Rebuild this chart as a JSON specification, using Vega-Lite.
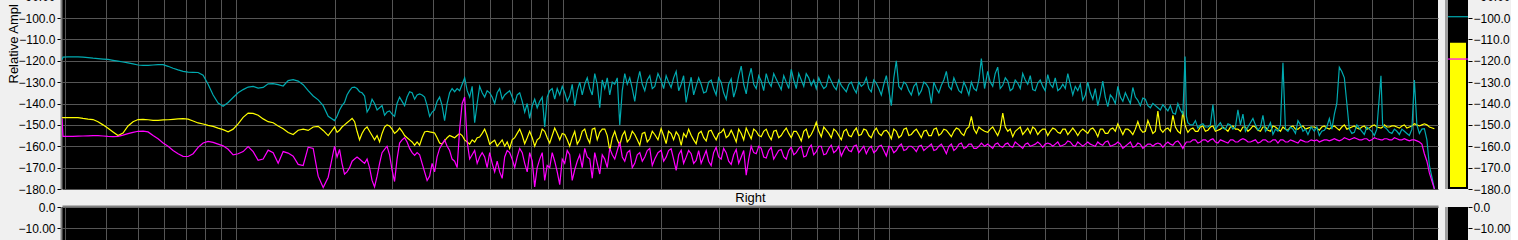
{
"$schema":"https://vega.github.io/schema/vega-lite/v6.json",
"background":"#f0f0f0",
"padding":{"left":7,"top":-12,"right":0,"bottom":0},
"autosize":{"type":"pad"},
"config":{"font":"Liberation Sans","view":{"fill":"#000000","stroke":null},
"axis":{"labelFont":"Liberation Sans","labelFontSize":12,"labelColor":"#000000","titleFont":"Liberation Sans","titleFontWeight":"normal","titleColor":"#000000","gridColor":"#555555","gridOpacity":1,"gridWidth":1,"tickColor":"#000000","labelOverlap":false}},
"datasets":{"spectrum":[
{"freq":14.64,"trace1":-119.5,"trace2":-146.6,"trace3":-147},
{"freq":14.74,"trace1":-118.3,"trace2":-146.6,"trace3":-155.4},
{"freq":15.27,"trace1":-118.2,"trace2":-146.6,"trace3":-155.4},
{"freq":15.82,"trace1":-118.2,"trace2":-146.6,"trace3":-155.4},
{"freq":16.39,"trace1":-118.2,"trace2":-146.6,"trace3":-155.3},
{"freq":16.98,"trace1":-118.3,"trace2":-147,"trace3":-155.2},
{"freq":17.59,"trace1":-118.5,"trace2":-147.3,"trace3":-155.1},
{"freq":18.22,"trace1":-118.8,"trace2":-147.5,"trace3":-155},
{"freq":18.87,"trace1":-119,"trace2":-148.5,"trace3":-155},
{"freq":19.55,"trace1":-119.2,"trace2":-150,"trace3":-155.2},
{"freq":20.25,"trace1":-119.4,"trace2":-151.6,"trace3":-155.4},
{"freq":20.98,"trace1":-119.8,"trace2":-153.3,"trace3":-155.5},
{"freq":21.73,"trace1":-120.2,"trace2":-155,"trace3":-155.4},
{"freq":22.51,"trace1":-120.6,"trace2":-153.8,"trace3":-154.8},
{"freq":23.32,"trace1":-121,"trace2":-150.5,"trace3":-154.1},
{"freq":24.16,"trace1":-121.5,"trace2":-148.5,"trace3":-153.5},
{"freq":25.03,"trace1":-122,"trace2":-147.5,"trace3":-153},
{"freq":25.93,"trace1":-122.2,"trace2":-147.4,"trace3":-152.9},
{"freq":26.86,"trace1":-122.2,"trace2":-147.6,"trace3":-153.3},
{"freq":27.82,"trace1":-122,"trace2":-147.9,"trace3":-155},
{"freq":28.82,"trace1":-121.8,"trace2":-147.9,"trace3":-156.5},
{"freq":29.86,"trace1":-121.8,"trace2":-147.7,"trace3":-158.5},
{"freq":30.93,"trace1":-122.6,"trace2":-147.6,"trace3":-160},
{"freq":32.04,"trace1":-123.5,"trace2":-147.4,"trace3":-162},
{"freq":33.19,"trace1":-124.3,"trace2":-147.2,"trace3":-163.5},
{"freq":34.38,"trace1":-125,"trace2":-147.1,"trace3":-164.7},
{"freq":35.62,"trace1":-125.3,"trace2":-147.3,"trace3":-164.8},
{"freq":36.9,"trace1":-125.4,"trace2":-148.2,"trace3":-163.5},
{"freq":38.22,"trace1":-125.5,"trace2":-149.1,"trace3":-160.5},
{"freq":39.59,"trace1":-126.8,"trace2":-149.6,"trace3":-158.5},
{"freq":41.01,"trace1":-131,"trace2":-150.2,"trace3":-157.7},
{"freq":42.49,"trace1":-136,"trace2":-150.7,"trace3":-158.2},
{"freq":44.01,"trace1":-139.8,"trace2":-151.5,"trace3":-159},
{"freq":45.59,"trace1":-141.3,"trace2":-152.2,"trace3":-159.8},
{"freq":47.23,"trace1":-139.5,"trace2":-153.2,"trace3":-161.4},
{"freq":48.93,"trace1":-137.2,"trace2":-152,"trace3":-164},
{"freq":50.68,"trace1":-135,"trace2":-149.5,"trace3":-163.5},
{"freq":52.5,"trace1":-133.5,"trace2":-146.5,"trace3":-162.5},
{"freq":54.39,"trace1":-132.3,"trace2":-144.5,"trace3":-160.2},
{"freq":56.34,"trace1":-132,"trace2":-144.6,"trace3":-162.5},
{"freq":58.36,"trace1":-132.8,"trace2":-145.5,"trace3":-166.6},
{"freq":60.46,"trace1":-132.5,"trace2":-147.2,"trace3":-166},
{"freq":62.63,"trace1":-130.8,"trace2":-148.5,"trace3":-161.8},
{"freq":64.88,"trace1":-130.7,"trace2":-149,"trace3":-163},
{"freq":67.21,"trace1":-131.2,"trace2":-150.5,"trace3":-168},
{"freq":69.62,"trace1":-131.8,"trace2":-151.8,"trace3":-162.5},
{"freq":72.12,"trace1":-129.3,"trace2":-153.6,"trace3":-163.2},
{"freq":74.71,"trace1":-128.8,"trace2":-154.5,"trace3":-164.7},
{"freq":77.39,"trace1":-129.5,"trace2":-152.5,"trace3":-168.5},
{"freq":80.17,"trace1":-131.2,"trace2":-152,"trace3":-169},
{"freq":83.05,"trace1":-134,"trace2":-152.6,"trace3":-160.4},
{"freq":86.03,"trace1":-136.5,"trace2":-151,"trace3":-161},
{"freq":89.12,"trace1":-138.3,"trace2":-150.7,"trace3":-174},
{"freq":92.32,"trace1":-141,"trace2":-152.6,"trace3":-179.3},
{"freq":95.63,"trace1":-146,"trace2":-155,"trace3":-174.5},
{"freq":100,"trace1":-148,"trace2":-151,"trace3":-160},
{"freq":103.6,"trace1":-143,"trace2":-152.5,"trace3":-161.5},
{"freq":107.3,"trace1":-139.5,"trace2":-150,"trace3":-173},
{"freq":111.2,"trace1":-134,"trace2":-148,"trace3":-170},
{"freq":115.2,"trace1":-132.3,"trace2":-148.5,"trace3":-166},
{"freq":119.3,"trace1":-134.5,"trace2":-157,"trace3":-166},
{"freq":123.6,"trace1":-136.5,"trace2":-152,"trace3":-168},
{"freq":128,"trace1":-142,"trace2":-153,"trace3":-170},
{"freq":132.6,"trace1":-140,"trace2":-157,"trace3":-179},
{"freq":137.4,"trace1":-142,"trace2":-158,"trace3":-168},
{"freq":142.3,"trace1":-145.5,"trace2":-151,"trace3":-161.5},
{"freq":147.4,"trace1":-143.5,"trace2":-150.5,"trace3":-164},
{"freq":152.7,"trace1":-146,"trace2":-154,"trace3":-176.5},
{"freq":158.2,"trace1":-137,"trace2":-151.5,"trace3":-158.5},
{"freq":163.9,"trace1":-141,"trace2":-155,"trace3":-156},
{"freq":169.8,"trace1":-134.5,"trace2":-157,"trace3":-161},
{"freq":175.9,"trace1":-138,"trace2":-159.5,"trace3":-164.3},
{"freq":182.2,"trace1":-135.5,"trace2":-159.5,"trace3":-164},
{"freq":188.7,"trace1":-137,"trace2":-153.3,"trace3":-172},
{"freq":195.5,"trace1":-146,"trace2":-153.3,"trace3":-174},
{"freq":202.5,"trace1":-143,"trace2":-153.8,"trace3":-172},
{"freq":209.8,"trace1":-137,"trace2":-158.5,"trace3":-161},
{"freq":217.3,"trace1":-148,"trace2":-157.5,"trace3":-157},
{"freq":225.1,"trace1":-135,"trace2":-155,"trace3":-162},
{"freq":233.2,"trace1":-134.5,"trace2":-156,"trace3":-167},
{"freq":241.6,"trace1":-134,"trace2":-154,"trace3":-152},
{"freq":250.3,"trace1":-128,"trace2":-157,"trace3":-137},
{"freq":259.3,"trace1":-137,"trace2":-159,"trace3":-166},
{"freq":268.6,"trace1":-149,"trace2":-158,"trace3":-162},
{"freq":278.2,"trace1":-132,"trace2":-155.7,"trace3":-165},
{"freq":288.2,"trace1":-137,"trace2":-152,"trace3":-165},
{"freq":298.6,"trace1":-135,"trace2":-159,"trace3":-163},
{"freq":309.3,"trace1":-140,"trace2":-157.2,"trace3":-172},
{"freq":320.4,"trace1":-133,"trace2":-158.5,"trace3":-172},
{"freq":331.9,"trace1":-136,"trace2":-160,"trace3":-165},
{"freq":343.8,"trace1":-134,"trace2":-161,"trace3":-163},
{"freq":356.2,"trace1":-140,"trace2":-156,"trace3":-170},
{"freq":369,"trace1":-135,"trace2":-152,"trace3":-161},
{"freq":382.2,"trace1":-144,"trace2":-158.8,"trace3":-168},
{"freq":395.9,"trace1":-147,"trace2":-153,"trace3":-163},
{"freq":410.1,"trace1":-138,"trace2":-160,"trace3":-179},
{"freq":424.9,"trace1":-139,"trace2":-156,"trace3":-166},
{"freq":440.1,"trace1":-151,"trace2":-153,"trace3":-176},
{"freq":455.9,"trace1":-134,"trace2":-158.5,"trace3":-170},
{"freq":472.3,"trace1":-138,"trace2":-151.5,"trace3":-167},
{"freq":489.3,"trace1":-136,"trace2":-157,"trace3":-178},
{"freq":506.8,"trace1":-135,"trace2":-154.5,"trace3":-168},
{"freq":525,"trace1":-136.5,"trace2":-160,"trace3":-164},
{"freq":543.9,"trace1":-141,"trace2":-153,"trace3":-171},
{"freq":563.4,"trace1":-130,"trace2":-157,"trace3":-164},
{"freq":583.6,"trace1":-131,"trace2":-152,"trace3":-161},
{"freq":604.6,"trace1":-133,"trace2":-158.5,"trace3":-166},
{"freq":626.3,"trace1":-126,"trace2":-151.5,"trace3":-163},
{"freq":648.8,"trace1":-142,"trace2":-153.5,"trace3":-173},
{"freq":672.1,"trace1":-133,"trace2":-152,"trace3":-166},
{"freq":696.2,"trace1":-136,"trace2":-162,"trace3":-161},
{"freq":721.2,"trace1":-131,"trace2":-153,"trace3":-166},
{"freq":747.1,"trace1":-150,"trace2":-159.5,"trace3":-158},
{"freq":773.9,"trace1":-126,"trace2":-153,"trace3":-167},
{"freq":801.7,"trace1":-128,"trace2":-156.5,"trace3":-162},
{"freq":830.5,"trace1":-139,"trace2":-154.5,"trace3":-168},
{"freq":860.3,"trace1":-125,"trace2":-159.5,"trace3":-163},
{"freq":891.2,"trace1":-134,"trace2":-153.5,"trace3":-165},
{"freq":923.2,"trace1":-127,"trace2":-156.5,"trace3":-161},
{"freq":956.3,"trace1":-132,"trace2":-154.5,"trace3":-166},
{"freq":1000,"trace1":-129.3,"trace2":-151.8,"trace3":-161.9},
{"freq":1036,"trace1":-127,"trace2":-158.8,"trace3":-165.1},
{"freq":1073,"trace1":-132.5,"trace2":-154.1,"trace3":-161.2},
{"freq":1112,"trace1":-125,"trace2":-153.3,"trace3":-171.3},
{"freq":1152,"trace1":-131,"trace2":-159.6,"trace3":-161.9},
{"freq":1193,"trace1":-139.5,"trace2":-155.7,"trace3":-165.1},
{"freq":1236,"trace1":-127.7,"trace2":-154.9,"trace3":-163.5},
{"freq":1280,"trace1":-132,"trace2":-158.8,"trace3":-166.6},
{"freq":1326,"trace1":-131,"trace2":-153,"trace3":-168},
{"freq":1374,"trace1":-134.5,"trace2":-157.5,"trace3":-162},
{"freq":1423,"trace1":-129,"trace2":-152.5,"trace3":-169},
{"freq":1474,"trace1":-136,"trace2":-157,"trace3":-160.5},
{"freq":1527,"trace1":-130,"trace2":-153.5,"trace3":-166},
{"freq":1582,"trace1":-138,"trace2":-156,"trace3":-163},
{"freq":1639,"trace1":-128.5,"trace2":-152.5,"trace3":-168.5},
{"freq":1698,"trace1":-133,"trace2":-158,"trace3":-161.5},
{"freq":1759,"trace1":-122.5,"trace2":-154,"trace3":-165},
{"freq":1822,"trace1":-135.5,"trace2":-151.5,"trace3":-173.5},
{"freq":1887,"trace1":-123.5,"trace2":-156.5,"trace3":-160},
{"freq":1955,"trace1":-133,"trace2":-153,"trace3":-163.5},
{"freq":2025,"trace1":-129.5,"trace2":-155.5,"trace3":-161},
{"freq":2098,"trace1":-126,"trace2":-152,"trace3":-165.5},
{"freq":2173,"trace1":-132,"trace2":-157,"trace3":-160.5},
{"freq":2251,"trace1":-128.5,"trace2":-152.5,"trace3":-164},
{"freq":2332,"trace1":-133.5,"trace2":-155,"trace3":-161.5},
{"freq":2416,"trace1":-130,"trace2":-151.5,"trace3":-166},
{"freq":2503,"trace1":-124,"trace2":-156,"trace3":-160.5},
{"freq":2593,"trace1":-133,"trace2":-153,"trace3":-163},
{"freq":2686,"trace1":-129,"trace2":-157.5,"trace3":-160},
{"freq":2782,"trace1":-126,"trace2":-152,"trace3":-164.5},
{"freq":2882,"trace1":-131.5,"trace2":-154.5,"trace3":-159.5},
{"freq":2986,"trace1":-133,"trace2":-148.8,"trace3":-162.5},
{"freq":3093,"trace1":-131,"trace2":-155.5,"trace3":-160},
{"freq":3204,"trace1":-132,"trace2":-152.5,"trace3":-163.5},
{"freq":3319,"trace1":-129.5,"trace2":-156,"trace3":-159.5},
{"freq":3438,"trace1":-133.5,"trace2":-153,"trace3":-162},
{"freq":3562,"trace1":-131.5,"trace2":-157,"trace3":-164.5},
{"freq":3690,"trace1":-134.5,"trace2":-152,"trace3":-160},
{"freq":3822,"trace1":-130,"trace2":-155.5,"trace3":-162.5},
{"freq":3959,"trace1":-135,"trace2":-151.5,"trace3":-159.5},
{"freq":4101,"trace1":-132,"trace2":-154.5,"trace3":-161.5},
{"freq":4249,"trace1":-128,"trace2":-152.5,"trace3":-163.5},
{"freq":4401,"trace1":-134.5,"trace2":-156,"trace3":-160},
{"freq":4559,"trace1":-130.5,"trace2":-151.5,"trace3":-162},
{"freq":4723,"trace1":-136,"trace2":-155,"trace3":-159.5},
{"freq":4893,"trace1":-127,"trace2":-152.5,"trace3":-164.5},
{"freq":5068,"trace1":-141,"trace2":-156.5,"trace3":-160.5},
{"freq":5250,"trace1":-120,"trace2":-153,"trace3":-162},
{"freq":5439,"trace1":-133.5,"trace2":-155,"trace3":-159},
{"freq":5634,"trace1":-131,"trace2":-151.5,"trace3":-161.5},
{"freq":5836,"trace1":-136,"trace2":-154.5,"trace3":-160},
{"freq":6046,"trace1":-130.5,"trace2":-152,"trace3":-162.5},
{"freq":6263,"trace1":-134,"trace2":-156,"trace3":-159.5},
{"freq":6488,"trace1":-131,"trace2":-152.5,"trace3":-161},
{"freq":6721,"trace1":-140,"trace2":-155,"trace3":-159},
{"freq":6962,"trace1":-133,"trace2":-151.5,"trace3":-161.5},
{"freq":7212,"trace1":-131.5,"trace2":-154,"trace3":-159},
{"freq":7471,"trace1":-125,"trace2":-152.5,"trace3":-163.5},
{"freq":7739,"trace1":-133.5,"trace2":-155.5,"trace3":-159},
{"freq":8017,"trace1":-131,"trace2":-151.5,"trace3":-161},
{"freq":8305,"trace1":-135,"trace2":-154,"trace3":-158.5},
{"freq":8603,"trace1":-132.5,"trace2":-152,"trace3":-160.5},
{"freq":8912,"trace1":-130,"trace2":-146,"trace3":-159},
{"freq":9232,"trace1":-134,"trace2":-154,"trace3":-161},
{"freq":9563,"trace1":-119,"trace2":-152,"trace3":-158.5},
{"freq":10000,"trace1":-125,"trace2":-153.5,"trace3":-159},
{"freq":10360,"trace1":-132,"trace2":-151,"trace3":-161},
{"freq":10730,"trace1":-123,"trace2":-155,"trace3":-158.5},
{"freq":11120,"trace1":-131.5,"trace2":-144.5,"trace3":-160.5},
{"freq":11520,"trace1":-129.5,"trace2":-153,"trace3":-158.5},
{"freq":11930,"trace1":-133,"trace2":-155.5,"trace3":-160.5},
{"freq":12360,"trace1":-130.5,"trace2":-152,"trace3":-159},
{"freq":12800,"trace1":-126,"trace2":-154.5,"trace3":-161},
{"freq":13260,"trace1":-131,"trace2":-151.5,"trace3":-158.5},
{"freq":13740,"trace1":-133.5,"trace2":-151,"trace3":-159.5},
{"freq":14230,"trace1":-130.5,"trace2":-154.5,"trace3":-158},
{"freq":14740,"trace1":-132,"trace2":-152,"trace3":-160.5},
{"freq":15270,"trace1":-126.5,"trace2":-155,"trace3":-158.5},
{"freq":15820,"trace1":-132.5,"trace2":-151.5,"trace3":-160},
{"freq":16390,"trace1":-134,"trace2":-153.5,"trace3":-158},
{"freq":16980,"trace1":-131,"trace2":-152,"trace3":-159.5},
{"freq":17590,"trace1":-126,"trace2":-154.5,"trace3":-157.5},
{"freq":18220,"trace1":-136,"trace2":-151.5,"trace3":-159.5},
{"freq":18870,"trace1":-134,"trace2":-155,"trace3":-158},
{"freq":19550,"trace1":-138.5,"trace2":-152,"trace3":-160},
{"freq":20250,"trace1":-130,"trace2":-154,"trace3":-158},
{"freq":20980,"trace1":-138,"trace2":-151.5,"trace3":-159.5},
{"freq":21730,"trace1":-141,"trace2":-155.5,"trace3":-158},
{"freq":22510,"trace1":-129.5,"trace2":-152,"trace3":-159.5},
{"freq":23320,"trace1":-141.5,"trace2":-154,"trace3":-157.5},
{"freq":24160,"trace1":-137.5,"trace2":-151.5,"trace3":-159.5},
{"freq":25030,"trace1":-132,"trace2":-149.5,"trace3":-158},
{"freq":25930,"trace1":-139,"trace2":-154.5,"trace3":-161},
{"freq":26860,"trace1":-137.5,"trace2":-152,"trace3":-159},
{"freq":27820,"trace1":-132.5,"trace2":-154.5,"trace3":-160.5},
{"freq":28820,"trace1":-138.5,"trace2":-148.5,"trace3":-158.5},
{"freq":29860,"trace1":-137.5,"trace2":-153.5,"trace3":-161},
{"freq":30930,"trace1":-141,"trace2":-148,"trace3":-159},
{"freq":32040,"trace1":-140,"trace2":-154,"trace3":-160},
{"freq":33190,"trace1":-142,"trace2":-143.5,"trace3":-158.5},
{"freq":34380,"trace1":-140.5,"trace2":-153.5,"trace3":-160.5},
{"freq":35620,"trace1":-143.5,"trace2":-151.5,"trace3":-158},
{"freq":36900,"trace1":-144.5,"trace2":-145.5,"trace3":-159.5},
{"freq":38220,"trace1":-140,"trace2":-153,"trace3":-157.5},
{"freq":39590,"trace1":-145,"trace2":-143.5,"trace3":-161},
{"freq":40200,"trace1":-118,"trace2":-150,"trace3":-159},
{"freq":41010,"trace1":-149,"trace2":-153.5,"trace3":-158},
{"freq":42490,"trace1":-150,"trace2":-151.5,"trace3":-157},
{"freq":44010,"trace1":-151.5,"trace2":-153,"trace3":-158.5},
{"freq":45590,"trace1":-149.5,"trace2":-150.5,"trace3":-157},
{"freq":47230,"trace1":-151,"trace2":-152.5,"trace3":-158},
{"freq":48930,"trace1":-140.5,"trace2":-150.5,"trace3":-156.5},
{"freq":50680,"trace1":-150.5,"trace2":-152.5,"trace3":-158.5},
{"freq":52500,"trace1":-151.5,"trace2":-151,"trace3":-157.5},
{"freq":54390,"trace1":-149.5,"trace2":-153,"trace3":-158.5},
{"freq":56340,"trace1":-152,"trace2":-150.5,"trace3":-157},
{"freq":58360,"trace1":-143,"trace2":-152,"trace3":-158},
{"freq":60460,"trace1":-145,"trace2":-151,"trace3":-156.5},
{"freq":62630,"trace1":-151,"trace2":-153,"trace3":-158},
{"freq":64880,"trace1":-147,"trace2":-150.5,"trace3":-157.5},
{"freq":67210,"trace1":-152.5,"trace2":-152.5,"trace3":-158.5},
{"freq":69620,"trace1":-145.5,"trace2":-151,"trace3":-157},
{"freq":72120,"trace1":-151.5,"trace2":-152.5,"trace3":-158},
{"freq":74710,"trace1":-154.5,"trace2":-150.5,"trace3":-157},
{"freq":77390,"trace1":-153,"trace2":-152,"trace3":-158.5},
{"freq":80170,"trace1":-121,"trace2":-151,"trace3":-157},
{"freq":83050,"trace1":-153,"trace2":-152.5,"trace3":-158},
{"freq":86030,"trace1":-152,"trace2":-150.5,"trace3":-157.5},
{"freq":89120,"trace1":-148,"trace2":-152,"trace3":-158.5},
{"freq":92320,"trace1":-153,"trace2":-150.5,"trace3":-157.5},
{"freq":95630,"trace1":-154.5,"trace2":-151.5,"trace3":-158},
{"freq":100000,"trace1":-153,"trace2":-151,"trace3":-157.5},
{"freq":103600,"trace1":-155,"trace2":-152.5,"trace3":-158},
{"freq":107300,"trace1":-152.5,"trace2":-150.5,"trace3":-157},
{"freq":111200,"trace1":-147,"trace2":-152,"trace3":-157.5},
{"freq":115200,"trace1":-145,"trace2":-150.5,"trace3":-156.5},
{"freq":119300,"trace1":-123,"trace2":-152.5,"trace3":-157.5},
{"freq":123600,"trace1":-128,"trace2":-150,"trace3":-156},
{"freq":128000,"trace1":-152,"trace2":-151.5,"trace3":-157},
{"freq":132600,"trace1":-153.5,"trace2":-150.5,"trace3":-156},
{"freq":137400,"trace1":-151.5,"trace2":-152,"trace3":-157},
{"freq":142300,"trace1":-154.5,"trace2":-150.5,"trace3":-156.5},
{"freq":147400,"trace1":-152,"trace2":-151.5,"trace3":-157.5},
{"freq":152700,"trace1":-155,"trace2":-150,"trace3":-156},
{"freq":160000,"trace1":-127,"trace2":-151.5,"trace3":-157},
{"freq":163900,"trace1":-151,"trace2":-150,"trace3":-156.5},
{"freq":169800,"trace1":-153.5,"trace2":-151,"trace3":-157},
{"freq":175900,"trace1":-152,"trace2":-150.5,"trace3":-156},
{"freq":182200,"trace1":-154.5,"trace2":-151.5,"trace3":-157},
{"freq":188700,"trace1":-153,"trace2":-150,"trace3":-156.5},
{"freq":195500,"trace1":-155,"trace2":-151,"trace3":-157.5},
{"freq":202500,"trace1":-129,"trace2":-149.5,"trace3":-157},
{"freq":209800,"trace1":-154,"trace2":-150.5,"trace3":-158},
{"freq":217300,"trace1":-151.8,"trace2":-149.5,"trace3":-163.5},
{"freq":225100,"trace1":-169,"trace2":-151,"trace3":-172.5},
{"freq":233200,"trace1":-180,"trace2":-151.8,"trace3":-180},
{"freq":101.8,"trace1":-146,"trace2":-153.5,"trace3":-165},
{"freq":105.4,"trace1":-141,"trace2":-151,"trace3":-168},
{"freq":109.2,"trace1":-136,"trace2":-149,"trace3":-172},
{"freq":113.2,"trace1":-132.5,"trace2":-147,"trace3":-167},
{"freq":117.2,"trace1":-133,"trace2":-153,"trace3":-165},
{"freq":121.4,"trace1":-135,"trace2":-154,"trace3":-167},
{"freq":125.8,"trace1":-144,"trace2":-151,"trace3":-166},
{"freq":130.3,"trace1":-138,"trace2":-155,"trace3":-176},
{"freq":135,"trace1":-143,"trace2":-155,"trace3":-174},
{"freq":139.8,"trace1":-141,"trace2":-154,"trace3":-163},
{"freq":144.8,"trace1":-144,"trace2":-150,"trace3":-160},
{"freq":150,"trace1":-145,"trace2":-152,"trace3":-171},
{"freq":155.4,"trace1":-140,"trace2":-153,"trace3":-166},
{"freq":161,"trace1":-139,"trace2":-153,"trace3":-157},
{"freq":166.8,"trace1":-137,"trace2":-156,"trace3":-158},
{"freq":172.8,"trace1":-135,"trace2":-158,"trace3":-163},
{"freq":179,"trace1":-136,"trace2":-158,"trace3":-163},
{"freq":185.4,"trace1":-136,"trace2":-156,"trace3":-168},
{"freq":192.1,"trace1":-141,"trace2":-153,"trace3":-176},
{"freq":199,"trace1":-144,"trace2":-153.5,"trace3":-168},
{"freq":206.1,"trace1":-139,"trace2":-156,"trace3":-165},
{"freq":213.5,"trace1":-141,"trace2":-159,"trace3":-159},
{"freq":221.2,"trace1":-140,"trace2":-156,"trace3":-160},
{"freq":229.1,"trace1":-133,"trace2":-155.5,"trace3":-166},
{"freq":237.4,"trace1":-133,"trace2":-155,"trace3":-170},
{"freq":245.9,"trace1":-131,"trace2":-155,"trace3":-140},
{"freq":254.8,"trace1":-134,"trace2":-158,"trace3":-158},
{"freq":263.9,"trace1":-132,"trace2":-157,"trace3":-164},
{"freq":273.4,"trace1":-140,"trace2":-156,"trace3":-168},
{"freq":283.2,"trace1":-135,"trace2":-154,"trace3":-163},
{"freq":293.3,"trace1":-134,"trace2":-155,"trace3":-170},
{"freq":303.9,"trace1":-137,"trace2":-158,"trace3":-168},
{"freq":314.8,"trace1":-135,"trace2":-160,"trace3":-167},
{"freq":326.1,"trace1":-138,"trace2":-157,"trace3":-175},
{"freq":337.8,"trace1":-135,"trace2":-158,"trace3":-162},
{"freq":349.9,"trace1":-137,"trace2":-157,"trace3":-166},
{"freq":362.5,"trace1":-136,"trace2":-154,"trace3":-165},
{"freq":375.6,"trace1":-139,"trace2":-155,"trace3":-163},
{"freq":389,"trace1":-140,"trace2":-156,"trace3":-172},
{"freq":403,"trace1":-141,"trace2":-156,"trace3":-167},
{"freq":417.4,"trace1":-142,"trace2":-157,"trace3":-170},
{"freq":432.5,"trace1":-137,"trace2":-152,"trace3":-163},
{"freq":447.9,"trace1":-137,"trace2":-156,"trace3":-169},
{"freq":464,"trace1":-133,"trace2":-155,"trace3":-163},
{"freq":480.7,"trace1":-133,"trace2":-154,"trace3":-172},
{"freq":498,"trace1":-132,"trace2":-154,"trace3":-166},
{"freq":515.8,"trace1":-139,"trace2":-157,"trace3":-162},
{"freq":534.3,"trace1":-131,"trace2":-156,"trace3":-176},
{"freq":553.6,"trace1":-134,"trace2":-159,"trace3":-167},
{"freq":573.4,"trace1":-136,"trace2":-153,"trace3":-170},
{"freq":594,"trace1":-128,"trace2":-156,"trace3":-165},
{"freq":615.4,"trace1":-136,"trace2":-152,"trace3":-175},
{"freq":637.4,"trace1":-131,"trace2":-157,"trace3":-168},
{"freq":660.3,"trace1":-129,"trace2":-152,"trace3":-164},
{"freq":684,"trace1":-128,"trace2":-155,"trace3":-170},
{"freq":708.6,"trace1":-130,"trace2":-156,"trace3":-164},
{"freq":734,"trace1":-128,"trace2":-157,"trace3":-162},
{"freq":760.4,"trace1":-134,"trace2":-155,"trace3":-165},
{"freq":787.7,"trace1":-131,"trace2":-158,"trace3":-163},
{"freq":816,"trace1":-133,"trace2":-153,"trace3":-170},
{"freq":845.3,"trace1":-130,"trace2":-157,"trace3":-164},
{"freq":875.6,"trace1":-131,"trace2":-154,"trace3":-167},
{"freq":907,"trace1":-129,"trace2":-158,"trace3":-162},
{"freq":939.6,"trace1":-133,"trace2":-153,"trace3":-169},
{"freq":978,"trace1":-126,"trace2":-157,"trace3":-163},
{"freq":1018,"trace1":-133,"trace2":-155,"trace3":-167},
{"freq":1054,"trace1":-130,"trace2":-153,"trace3":-162},
{"freq":1092,"trace1":-128,"trace2":-157,"trace3":-166},
{"freq":1132,"trace1":-134,"trace2":-155,"trace3":-164},
{"freq":1172,"trace1":-127,"trace2":-154,"trace3":-168},
{"freq":1214,"trace1":-133,"trace2":-152,"trace3":-162},
{"freq":1258,"trace1":-136,"trace2":-157,"trace3":-168},
{"freq":1303,"trace1":-128,"trace2":-154,"trace3":-162},
{"freq":1350,"trace1":-135,"trace2":-156,"trace3":-165},
{"freq":1398,"trace1":-130,"trace2":-153,"trace3":-167},
{"freq":1448,"trace1":-133,"trace2":-155,"trace3":-163},
{"freq":1500,"trace1":-128,"trace2":-154,"trace3":-165},
{"freq":1554,"trace1":-135,"trace2":-152,"trace3":-161},
{"freq":1610,"trace1":-131,"trace2":-155,"trace3":-167},
{"freq":1668,"trace1":-137,"trace2":-155,"trace3":-164},
{"freq":1728,"trace1":-127,"trace2":-152,"trace3":-168},
{"freq":1790,"trace1":-131,"trace2":-157,"trace3":-162},
{"freq":1854,"trace1":-128,"trace2":-154,"trace3":-166},
{"freq":1921,"trace1":-131,"trace2":-152,"trace3":-163},
{"freq":1990,"trace1":-127,"trace2":-155,"trace3":-160},
{"freq":2061,"trace1":-134,"trace2":-153,"trace3":-165},
{"freq":2135,"trace1":-130,"trace2":-155,"trace3":-162},
{"freq":2212,"trace1":-126,"trace2":-153,"trace3":-166},
{"freq":2291,"trace1":-131,"trace2":-156,"trace3":-162},
{"freq":2374,"trace1":-127,"trace2":-153,"trace3":-165},
{"freq":2459,"trace1":-133,"trace2":-154,"trace3":-162},
{"freq":2548,"trace1":-129,"trace2":-153,"trace3":-164},
{"freq":2639,"trace1":-126,"trace2":-155,"trace3":-161},
{"freq":2734,"trace1":-132,"trace2":-153,"trace3":-165},
{"freq":2832,"trace1":-128,"trace2":-156,"trace3":-161},
{"freq":2933,"trace1":-129,"trace2":-152,"trace3":-164},
{"freq":3039,"trace1":-128,"trace2":-153,"trace3":-160},
{"freq":3148,"trace1":-133,"trace2":-151,"trace3":-164},
{"freq":3261,"trace1":-127,"trace2":-154,"trace3":-161},
{"freq":3378,"trace1":-132,"trace2":-152,"trace3":-163},
{"freq":3499,"trace1":-129,"trace2":-155,"trace3":-160},
{"freq":3625,"trace1":-133,"trace2":-153,"trace3":-162},
{"freq":3756,"trace1":-131,"trace2":-155,"trace3":-162},
{"freq":3890,"trace1":-133,"trace2":-153,"trace3":-160},
{"freq":4029,"trace1":-130,"trace2":-155,"trace3":-163},
{"freq":4174,"trace1":-131,"trace2":-152,"trace3":-160},
{"freq":4325,"trace1":-133,"trace2":-155,"trace3":-161},
{"freq":4479,"trace1":-129,"trace2":-153,"trace3":-163},
{"freq":4640,"trace1":-133,"trace2":-154,"trace3":-160},
{"freq":4807,"trace1":-131,"trace2":-153,"trace3":-162},
{"freq":4980,"trace1":-134,"trace2":-154,"trace3":-160},
{"freq":5158,"trace1":-128,"trace2":-152,"trace3":-163},
{"freq":5343,"trace1":-132,"trace2":-156,"trace3":-160},
{"freq":5536,"trace1":-130,"trace2":-152,"trace3":-162},
{"freq":5734,"trace1":-134,"trace2":-155,"trace3":-160},
{"freq":5940,"trace1":-132,"trace2":-153,"trace3":-161},
{"freq":6154,"trace1":-136,"trace2":-154,"trace3":-160},
{"freq":6374,"trace1":-130,"trace2":-153,"trace3":-162},
{"freq":6603,"trace1":-133,"trace2":-155,"trace3":-160},
{"freq":6841,"trace1":-130,"trace2":-152,"trace3":-162},
{"freq":7086,"trace1":-135,"trace2":-155,"trace3":-160},
{"freq":7340,"trace1":-129,"trace2":-152,"trace3":-161},
{"freq":7604,"trace1":-132,"trace2":-154,"trace3":-160},
{"freq":7877,"trace1":-128,"trace2":-153,"trace3":-162},
{"freq":8160,"trace1":-134,"trace2":-152,"trace3":-159},
{"freq":8453,"trace1":-130,"trace2":-155,"trace3":-161},
{"freq":8756,"trace1":-136,"trace2":-151,"trace3":-159},
{"freq":9071,"trace1":-133,"trace2":-152,"trace3":-161},
{"freq":9396,"trace1":-129,"trace2":-151,"trace3":-160},
{"freq":9780,"trace1":-133,"trace2":-153,"trace3":-160},
{"freq":10180,"trace1":-130,"trace2":-152,"trace3":-160},
{"freq":10540,"trace1":-126,"trace2":-153,"trace3":-159},
{"freq":10920,"trace1":-133,"trace2":-152,"trace3":-160},
{"freq":11320,"trace1":-128,"trace2":-151,"trace3":-159},
{"freq":11720,"trace1":-134,"trace2":-152,"trace3":-160},
{"freq":12140,"trace1":-129,"trace2":-153,"trace3":-158},
{"freq":12580,"trace1":-133,"trace2":-151,"trace3":-160},
{"freq":13030,"trace1":-129,"trace2":-153,"trace3":-159},
{"freq":13500,"trace1":-127,"trace2":-154,"trace3":-160},
{"freq":13980,"trace1":-134,"trace2":-152,"trace3":-159},
{"freq":14480,"trace1":-129,"trace2":-153,"trace3":-159},
{"freq":15000,"trace1":-134,"trace2":-152,"trace3":-159},
{"freq":15540,"trace1":-131,"trace2":-153,"trace3":-159},
{"freq":16100,"trace1":-128,"trace2":-152,"trace3":-159},
{"freq":16680,"trace1":-133,"trace2":-154,"trace3":-160},
{"freq":17280,"trace1":-133,"trace2":-152,"trace3":-159},
{"freq":17900,"trace1":-131,"trace2":-153,"trace3":-158},
{"freq":18540,"trace1":-132,"trace2":-153,"trace3":-160},
{"freq":19210,"trace1":-131,"trace2":-153,"trace3":-159},
{"freq":19900,"trace1":-136,"trace2":-153,"trace3":-159},
{"freq":20610,"trace1":-135,"trace2":-152,"trace3":-159},
{"freq":21350,"trace1":-133,"trace2":-153,"trace3":-160},
{"freq":22120,"trace1":-136,"trace2":-152,"trace3":-159},
{"freq":22910,"trace1":-137,"trace2":-154,"trace3":-158},
{"freq":23740,"trace1":-136,"trace2":-152,"trace3":-160},
{"freq":24590,"trace1":-140,"trace2":-153,"trace3":-159},
{"freq":25480,"trace1":-137,"trace2":-152,"trace3":-159},
{"freq":26390,"trace1":-135,"trace2":-152,"trace3":-160},
{"freq":27340,"trace1":-140,"trace2":-153,"trace3":-158},
{"freq":28320,"trace1":-137,"trace2":-152,"trace3":-160},
{"freq":29330,"trace1":-141,"trace2":-152,"trace3":-159},
{"freq":30390,"trace1":-138,"trace2":-153,"trace3":-160},
{"freq":31480,"trace1":-142,"trace2":-151,"trace3":-159},
{"freq":32610,"trace1":-141,"trace2":-153,"trace3":-159},
{"freq":33780,"trace1":-143,"trace2":-152,"trace3":-159},
{"freq":34990,"trace1":-142,"trace2":-152,"trace3":-159},
{"freq":36250,"trace1":-141,"trace2":-153,"trace3":-159},
{"freq":37560,"trace1":-145,"trace2":-151,"trace3":-158},
{"freq":38900,"trace1":-143,"trace2":-154,"trace3":-159},
{"freq":40600,"trace1":-146,"trace2":-152,"trace3":-158},
{"freq":41740,"trace1":-150,"trace2":-152,"trace3":-158},
{"freq":43250,"trace1":-148,"trace2":-153,"trace3":-157},
{"freq":44790,"trace1":-150,"trace2":-151,"trace3":-158},
{"freq":46400,"trace1":-151,"trace2":-153,"trace3":-157},
{"freq":48070,"trace1":-150,"trace2":-151,"trace3":-157},
{"freq":49800,"trace1":-152,"trace2":-153,"trace3":-158},
{"freq":51580,"trace1":-149,"trace2":-152,"trace3":-157},
{"freq":53430,"trace1":-152,"trace2":-152,"trace3":-158},
{"freq":55360,"trace1":-150,"trace2":-151,"trace3":-157},
{"freq":57340,"trace1":-151,"trace2":-152,"trace3":-158},
{"freq":59400,"trace1":-150,"trace2":-153,"trace3":-157},
{"freq":61540,"trace1":-153,"trace2":-151,"trace3":-157},
{"freq":63740,"trace1":-149,"trace2":-152,"trace3":-158},
{"freq":66030,"trace1":-150,"trace2":-151,"trace3":-157},
{"freq":68410,"trace1":-151,"trace2":-153,"trace3":-158},
{"freq":70860,"trace1":-153,"trace2":-151,"trace3":-157},
{"freq":73400,"trace1":-149,"trace2":-153,"trace3":-158},
{"freq":76040,"trace1":-152,"trace2":-151,"trace3":-157},
{"freq":78770,"trace1":-150,"trace2":-153,"trace3":-157},
{"freq":81600,"trace1":-152,"trace2":-152,"trace3":-158},
{"freq":84530,"trace1":-151,"trace2":-151,"trace3":-157},
{"freq":87560,"trace1":-154,"trace2":-152,"trace3":-158},
{"freq":90710,"trace1":-150,"trace2":-151,"trace3":-157},
{"freq":93960,"trace1":-152,"trace2":-152,"trace3":-158},
{"freq":97800,"trace1":-151,"trace2":-151,"trace3":-157},
{"freq":101800,"trace1":-151,"trace2":-151.5,"trace3":-157},
{"freq":105400,"trace1":-153,"trace2":-151,"trace3":-157.5},
{"freq":109200,"trace1":-151,"trace2":-151.5,"trace3":-157},
{"freq":113200,"trace1":-152,"trace2":-151,"trace3":-157},
{"freq":117200,"trace1":-140,"trace2":-151.5,"trace3":-157},
{"freq":121400,"trace1":-125,"trace2":-151,"trace3":-157},
{"freq":125800,"trace1":-140,"trace2":-152,"trace3":-156.5},
{"freq":130300,"trace1":-154,"trace2":-151,"trace3":-156.5},
{"freq":135000,"trace1":-150,"trace2":-151.5,"trace3":-156.5},
{"freq":139800,"trace1":-153,"trace2":-151,"trace3":-157},
{"freq":144800,"trace1":-151,"trace2":-152,"trace3":-156.5},
{"freq":150000,"trace1":-153,"trace2":-150.5,"trace3":-157},
{"freq":155400,"trace1":-152,"trace2":-151,"trace3":-156.5},
{"freq":161900,"trace1":-150,"trace2":-151,"trace3":-157},
{"freq":166800,"trace1":-152,"trace2":-151,"trace3":-156.5},
{"freq":172800,"trace1":-154,"trace2":-150.5,"trace3":-157},
{"freq":179000,"trace1":-153,"trace2":-151,"trace3":-156.5},
{"freq":185400,"trace1":-152,"trace2":-150.5,"trace3":-157},
{"freq":192100,"trace1":-154,"trace2":-151.5,"trace3":-157},
{"freq":199000,"trace1":-152,"trace2":-150.5,"trace3":-157},
{"freq":206100,"trace1":-150,"trace2":-150,"trace3":-157.5},
{"freq":213500,"trace1":-152,"trace2":-150,"trace3":-159},
{"freq":221200,"trace1":-157,"trace2":-150,"trace3":-167}
]},
"columns":2,
"spacing":{"row":18,"column":10},
"bounds":"flush",
"concat":[
{
"width":1376,"height":199,
"data":{"name":"spectrum"},
"transform":[{"fold":["trace2","trace1","trace3"],"as":["trace","level"]}],
"encoding":{
"x":{"field":"freq","type":"quantitative","scale":{"type":"log","domain":[14.64,239200],"nice":false},
"axis":{"values":[15,20,25,30,35,40,45,50,100,150,200,250,300,350,400,450,500,1000,1500,2000,2500,3000,3500,4000,4500,5000,10000,15000,20000,25000,30000,35000,40000,45000,50000,100000,150000,200000],"grid":true,"labels":false,"ticks":false,"domain":false,"title":null}},
"y":{"field":"level","type":"quantitative","title":"Relative Ampl","scale":{"domain":[-180,-86.9],"nice":false,"zero":false},
"axis":{"values":[-90,-100,-110,-120,-130,-140,-150,-160,-170,-180],"labelExpr":"datum.value <= -100 ? format(datum.value, '.1f') : format(datum.value, '.2f')","labelOverlap":false,"labelFontSize":12,"grid":true,"tickSize":4,"tickWidth":1,"labelPadding":2,"domain":true,"domainColor":"#808080","domainWidth":2,"offset":1,"titleFontSize":13,"titleAlign":"left","titleAngle":-90,"titleBaseline":"bottom","titleX":-41,"titleY":93}}},
"layer":[
{"transform":[{"filter":"datum.trace == 'trace2'"}],"mark":{"type":"line","color":"#ffff00","strokeWidth":1.2,"clip":true}},
{"transform":[{"filter":"datum.trace == 'trace1'"}],"mark":{"type":"line","color":"#00aab0","strokeWidth":1.2,"clip":true}},
{"transform":[{"filter":"datum.trace == 'trace3'"}],"mark":{"type":"line","color":"#ff00ff","strokeWidth":1.2,"clip":true}}
]
},
{
"width":20,"height":199,
"data":{"values":[{"reading":"level","dB":-110.7},{"reading":"peak","dB":-99.4},{"reading":"hold","dB":-119.2}]},
"layer":[
{
"encoding":{"y":{"field":"dB","type":"quantitative","title":null,"scale":{"domain":[-180,-86.9],"nice":false,"zero":false},
"axis":{"orient":"right","values":[-90,-100,-110,-120,-130,-140,-150,-160,-170,-180],"labelExpr":"datum.value <= -100 ? format(datum.value, '.1f') : format(datum.value, '.2f')","labelOverlap":false,"labelFontSize":12,"grid":false,"domain":false,"tickSize":4,"labelPadding":1,"title":null}}},
"layer":[
{"transform":[{"filter":"datum.reading == 'level'"}],"mark":{"type":"rect","fill":"#ffff00","stroke":"#000000","strokeWidth":4,"clip":true},"encoding":{"y2":{"datum":-180}}},
{"transform":[{"filter":"datum.reading == 'peak'"}],"mark":{"type":"rule","color":"#00aab0","strokeWidth":1.2}},
{"transform":[{"filter":"datum.reading == 'hold'"}],"mark":{"type":"rule","color":"#ff00ff","strokeWidth":1.2}}
]
},
{"transform":[{"filter":"datum.reading == 'level'"}],"mark":{"type":"rule","color":"#a0a0a0","strokeWidth":3,"xOffset":-1.5},
"encoding":{"x":{"datum":0,"type":"quantitative","scale":{"domain":[0,1]},"axis":null}}}
]
},
{
"width":1376,"height":33,
"data":{"name":"spectrum"},
"mark":{"type":"point","opacity":0},
"encoding":{
"x":{"field":"freq","type":"quantitative","scale":{"type":"log","domain":[14.64,239200],"nice":false},
"axis":{"orient":"top","values":[15,20,25,30,35,40,45,50,100,150,200,250,300,350,400,450,500,1000,1500,2000,2500,3000,3500,4000,4500,5000,10000,15000,20000,25000,30000,35000,40000,45000,50000,100000,150000,200000],"grid":true,"labels":false,"ticks":false,"domain":true,"domainColor":"#808080","domainWidth":2,"offset":1,"title":"Right","titleFontSize":13,"titleBaseline":"alphabetic","titleY":-5}},
"y":{"datum":0,"type":"quantitative","scale":{"domain":[-15.45,0],"nice":false,"zero":false},
"axis":{"values":[0,-10],"labelExpr":"datum.value == 0 ? '0.0' : format(datum.value, '.2f')","labelOverlap":false,"labelFontSize":12,"grid":true,"tickSize":4,"labelPadding":2,"domain":true,"domainColor":"#808080","domainWidth":2,"offset":1,"title":null}}}
},
{
"width":20,"height":33,
"data":{"values":[{"v":0}]},
"layer":[
{"mark":{"type":"point","opacity":0},
"encoding":{"y":{"field":"v","type":"quantitative","scale":{"domain":[-15.45,0],"nice":false,"zero":false},
"axis":{"orient":"right","values":[0,-10],"labelExpr":"datum.value == 0 ? '0.0' : format(datum.value, '.2f')","labelOverlap":false,"labelFontSize":12,"grid":false,"domain":false,"tickSize":4,"labelPadding":1,"title":null}}}},
{"mark":{"type":"rule","color":"#a0a0a0","strokeWidth":3,"xOffset":-1.5},
"encoding":{"x":{"datum":0,"type":"quantitative","scale":{"domain":[0,1]},"axis":null}}}
]
}
]
}
